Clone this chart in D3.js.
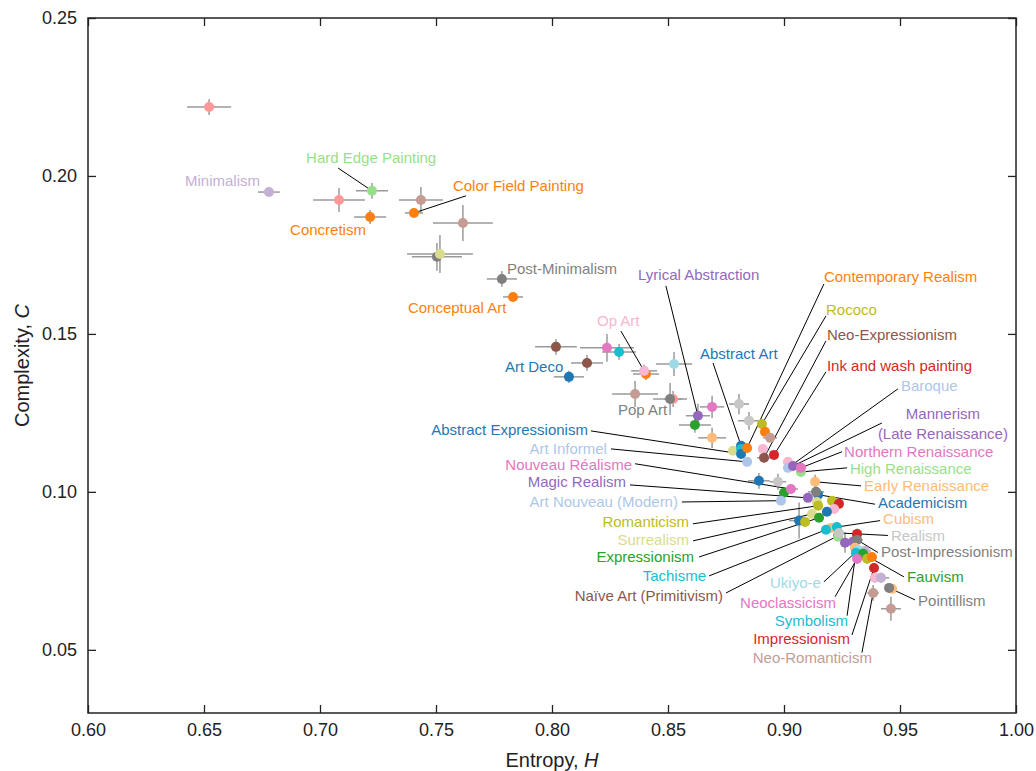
<!DOCTYPE html>
<html>
<head>
<meta charset="utf-8">
<script src="https://cdn.jsdelivr.net/npm/d3@7"></script>
<style>
  html, body { margin: 0; padding: 0; background: #fff; }
  svg { display: block; font-family: "Liberation Sans", Arial, Helvetica, sans-serif; }
</style>
</head>
<body>
<svg id="chart" width="1036" height="771"></svg>
<script>
// ---------------- DATA ----------------
const names = [
  "", "Minimalism", "", "Hard Edge Painting", "Concretism", "", "Color Field Painting", "",
  "", "", "Post-Minimalism", "Conceptual Art", "", "", "", "", "Art Deco", "", "Op Art", "",
  "", "", "Pop Art", "", "Lyrical Abstraction", "", "", "", "", "Rococo", "", "", "",
  "Abstract Art", "", "Abstract Expressionism", "Contemporary Realism", "", "Neo-Expressionism",
  "Ink and wash painting", "Art Informel", "", "Baroque", "Mannerism", "High Renaissance",
  "Northern Renaissance", "Early Renaissance", "", "", "", "Nouveau Réalisme", "Academicism", "",
  "Magic Realism", "Art Nouveau (Modern)", "", "Romanticism", "", "", "", "", "Surrealism",
  "Expressionism", "", "", "Cubism", "Tachisme", "", "Naïve Art (Primitivism)", "", "Realism", "",
  "", "", "Post-Impressionism", "", "", "Ukiyo-e", "Symbolism", "Fauvism", "Neoclassicism", "",
  "", "Impressionism", "", "", "Neo-Romanticism", "", "Pointillism", ""
];
const colors = [
  "#ff9896", "#c5b0d5", "#ff9896", "#98df8a", "#ff7f0e", "#c49c94", "#ff7f0e", "#c49c94",
  "#7f7f7f", "#dbdb8d", "#7f7f7f", "#ff7f0e", "#8c564b", "#e377c2", "#17becf", "#8c564b", "#1f77b4", "#ff7f0e", "#f7b6d2", "#9edae5",
  "#c49c94", "#ff9896", "#7f7f7f", "#e377c2", "#9467bd", "#2ca02c", "#c7c7c7", "#c7c7c7", "#ffbb78", "#bcbd22", "#ff7f0e", "#c49c94", "#dbdb8d",
  "#1f77b4", "#17becf", "#1f77b4", "#ff7f0e", "#f7b6d2", "#8c564b",
  "#d62728", "#aec7e8", "#f7b6d2", "#aec7e8", "#9467bd", "#98df8a",
  "#e377c2", "#ffbb78", "#1f77b4", "#c7c7c7", "#2ca02c", "#e377c2", "#1f77b4", "#7f7f7f",
  "#9467bd", "#aec7e8", "#dbdb8d", "#bcbd22", "#bcbd22", "#d62728", "#f7b6d2", "#1f77b4", "#dbdb8d",
  "#2ca02c", "#1f77b4", "#bcbd22", "#ffbb78", "#17becf", "#17becf", "#8c564b", "#98df8a", "#c7c7c7", "#d62728",
  "#9467bd", "#9467bd", "#7f7f7f", "#ffbb78", "#c5b0d5", "#9edae5", "#17becf", "#2ca02c", "#e377c2", "#bcbd22",
  "#ff7f0e", "#d62728", "#f7b6d2", "#c5b0d5", "#c49c94", "#ffbb78", "#7f7f7f", "#c49c94"
];
// Entropy H
const entropy = [
  0.6522, 0.6780, 0.7082, 0.7224, 0.7216, 0.7435, 0.7405, 0.7616,
  0.7504, 0.7517, 0.7784, 0.7832, 0.8017, 0.8237, 0.8289, 0.8151, 0.8073, 0.8405, 0.8397, 0.8526,
  0.8358, 0.8522, 0.8509, 0.8690, 0.8629, 0.8616, 0.8806, 0.8849, 0.8690, 0.8905, 0.8918, 0.8940, 0.8780,
  0.8815, 0.8815, 0.8815, 0.8841, 0.8909, 0.8914,
  0.8957, 0.8841, 0.9017, 0.9017, 0.9039, 0.9073,
  0.9073, 0.9134, 0.8892, 0.8974, 0.9000, 0.9030, 0.9147, 0.9138,
  0.9103, 0.8987, 0.9142, 0.9147, 0.9207, 0.9237, 0.9216, 0.9185, 0.9121,
  0.9151, 0.9065, 0.9091, 0.9203, 0.9181, 0.9228, 0.9233, 0.9233, 0.9237, 0.9315,
  0.9263, 0.9297, 0.9315, 0.9306, 0.9349, 0.9319, 0.9310, 0.9341, 0.9315, 0.9358,
  0.9379, 0.9388, 0.9392, 0.9418, 0.9384, 0.9466, 0.9453, 0.9461
];
// Complexity C
const complexity = [
  0.2218, 0.1949, 0.1924, 0.1953, 0.1870, 0.1924, 0.1883, 0.1851,
  0.1744, 0.1753, 0.1674, 0.1617, 0.1459, 0.1456, 0.1443, 0.1408, 0.1364, 0.1373, 0.1383, 0.1405,
  0.1310, 0.1294, 0.1294, 0.1269, 0.1241, 0.1212, 0.1278, 0.1225, 0.1171, 0.1215, 0.1190, 0.1171, 0.1130,
  0.1146, 0.1136, 0.1120, 0.1139, 0.1136, 0.1108,
  0.1117, 0.1095, 0.1095, 0.1076, 0.1082, 0.1063,
  0.1076, 0.1032, 0.1035, 0.1032, 0.0997, 0.1009, 0.0991, 0.1000,
  0.0981, 0.0972, 0.0968, 0.0956, 0.0972, 0.0962, 0.0946, 0.0937, 0.0930,
  0.0918, 0.0909, 0.0905, 0.0886, 0.0880, 0.0889, 0.0861, 0.0858, 0.0870, 0.0867,
  0.0839, 0.0842, 0.0848, 0.0823, 0.0813, 0.0816, 0.0807, 0.0804, 0.0788, 0.0788,
  0.0794, 0.0759, 0.0728, 0.0728, 0.0680, 0.0693, 0.0696, 0.0630
];
// standard errors
const entropyErr = [
  0.0095, 0.0047, 0.0112, 0.0069, 0.0069, 0.0095, 0.0039, 0.0129,
  0.0108, 0.0142, 0.0065, 0.0043, 0.0090, 0.0116, 0.0073, 0.0069, 0.0065, 0.0056, 0.0056, 0.0078,
  0.0099, 0.0040, 0.0073, 0.0052, 0.0052, 0.0069, 0.0043, 0.0047, 0.0060, 0.0013, 0.0015, 0.0030, 0.0020,
  0.0020, 0.0020, 0.0020, 0.0015, 0.0020, 0.0030,
  0.0015, 0.0020, 0.0020, 0.0020, 0.0020, 0.0020,
  0.0020, 0.0015, 0.0047, 0.0035, 0.0020, 0.0030, 0.0020, 0.0035,
  0.0020, 0.0020, 0.0020, 0.0020, 0.0020, 0.0015, 0.0020, 0.0020, 0.0020,
  0.0020, 0.0043, 0.0020, 0.0020, 0.0020, 0.0020, 0.0020, 0.0020, 0.0020, 0.0020,
  0.0020, 0.0020, 0.0025, 0.0020, 0.0025, 0.0020, 0.0020, 0.0020, 0.0020, 0.0020,
  0.0020, 0.0015, 0.0020, 0.0035, 0.0025, 0.0015, 0.0020, 0.0043
];
const complexityErr = [
  0.0025, 0.0006, 0.0038, 0.0025, 0.0022, 0.0041, 0.0010, 0.0057,
  0.0044, 0.0060, 0.0025, 0.0013, 0.0025, 0.0044, 0.0025, 0.0025, 0.0019, 0.0019, 0.0019, 0.0038,
  0.0041, 0.0025, 0.0051, 0.0035, 0.0038, 0.0025, 0.0032, 0.0028, 0.0032, 0.0010, 0.0010, 0.0013, 0.0013,
  0.0013, 0.0013, 0.0013, 0.0010, 0.0013, 0.0016,
  0.0010, 0.0013, 0.0013, 0.0013, 0.0013, 0.0013,
  0.0013, 0.0022, 0.0025, 0.0025, 0.0013, 0.0016, 0.0013, 0.0025,
  0.0013, 0.0013, 0.0013, 0.0013, 0.0013, 0.0013, 0.0013, 0.0013, 0.0013,
  0.0013, 0.0057, 0.0016, 0.0013, 0.0013, 0.0013, 0.0013, 0.0013, 0.0013, 0.0016,
  0.0032, 0.0025, 0.0035, 0.0016, 0.0016, 0.0016, 0.0013, 0.0020, 0.0016, 0.0016,
  0.0013, 0.0016, 0.0016, 0.0016, 0.0025, 0.0013, 0.0013, 0.0038
];
const xTicks = [0.60, 0.65, 0.70, 0.75, 0.80, 0.85, 0.90, 0.95, 1.00];
const yTicks = [0.05, 0.10, 0.15, 0.20, 0.25];

// --------------- LABEL LAYOUT (data units) ---------------
// [name, anchor, textX, textY, leaderX, leaderY]
const labelLayout = [
  ["Minimalism", "start", 0.6418, 0.1984, null, null],
  ["Hard Edge Painting", "start", 0.6940, 0.2057, 0.7078, 0.2025],
  ["Color Field Painting", "start", 0.7573, 0.1968, 0.7629, 0.1937],
  ["Concretism", "start", 0.6871, 0.1829, null, null],
  ["Post-Minimalism", "start", 0.7806, 0.1706, null, null],
  ["Conceptual Art", "start", 0.7379, 0.1582, null, null],
  ["Lyrical Abstraction", "start", 0.8371, 0.1687, 0.8491, 0.1652],
  ["Op Art", "start", 0.8194, 0.1541, 0.8297, 0.1509],
  ["Art Deco", "start", 0.7797, 0.1396, null, null],
  ["Abstract Art", "start", 0.8638, 0.1437, 0.8694, 0.1408],
  ["Pop Art", "start", 0.8284, 0.1259, null, null],
  ["Contemporary Realism", "start", 0.9172, 0.1680, 0.9172, 0.1658],
  ["Rococo", "start", 0.9181, 0.1576, 0.9181, 0.1557],
  ["Neo-Expressionism", "start", 0.9185, 0.1497, 0.9181, 0.1478],
  ["Ink and wash painting", "start", 0.9185, 0.1399, 0.9181, 0.1380],
  ["Baroque", "start", 0.9504, 0.1335, 0.9491, 0.1326],
  ["Mannerism", "middle", 0.9685, 0.1247, 0.9422, 0.1218],
  ["Northern Renaissance", "start", 0.9259, 0.1127, 0.9250, 0.1127],
  ["High Renaissance", "start", 0.9284, 0.1073, 0.9272, 0.1076],
  ["Early Renaissance", "start", 0.9345, 0.1019, 0.9332, 0.1019],
  ["Academicism", "start", 0.9405, 0.0967, 0.9392, 0.0961],
  ["Cubism", "start", 0.9427, 0.0915, 0.9414, 0.0909],
  ["Realism", "start", 0.9461, 0.0862, 0.9448, 0.0862],
  ["Post-Impressionism", "start", 0.9418, 0.0810, 0.9405, 0.0808],
  ["Fauvism", "start", 0.9530, 0.0731, 0.9517, 0.0731],
  ["Pointillism", "start", 0.9578, 0.0655, 0.9565, 0.0658],
  ["Ukiyo-e", "end", 0.9159, 0.0712, 0.9172, 0.0715],
  ["Neoclassicism", "end", 0.9224, 0.0649, 0.9220, 0.0668],
  ["Symbolism", "end", 0.9276, 0.0592, 0.9272, 0.0608],
  ["Impressionism", "end", 0.9284, 0.0535, 0.9293, 0.0547],
  ["Neo-Romanticism", "end", 0.9379, 0.0475, 0.9336, 0.0491],
  ["Abstract Expressionism", "end", 0.8155, 0.1196, 0.8168, 0.1193],
  ["Art Informel", "end", 0.8237, 0.1136, 0.8254, 0.1136],
  ["Nouveau Réalisme", "end", 0.8345, 0.1085, 0.8358, 0.1089],
  ["Magic Realism", "end", 0.8319, 0.1032, 0.8336, 0.1022],
  ["Art Nouveau (Modern)", "end", 0.8543, 0.0968, 0.8560, 0.0968],
  ["Romanticism", "end", 0.8591, 0.0905, 0.8608, 0.0899],
  ["Surrealism", "end", 0.8591, 0.0848, 0.8608, 0.0845],
  ["Expressionism", "end", 0.8612, 0.0794, 0.8634, 0.0794],
  ["Tachisme", "end", 0.8664, 0.0734, 0.8677, 0.0734],
  ["Naïve Art (Primitivism)", "end", 0.8737, 0.0671, 0.8750, 0.0680]
];

// --------------- CHART ---------------
const W = 1036, H = 771;
const margin = { left: 88, right: 20, top: 18, bottom: 58 };
const x = d3.scaleLinear().domain([0.60, 1.00]).range([margin.left, W - margin.right]);
const y = d3.scaleLinear().domain([0.03, 0.25]).range([H - margin.bottom, margin.top]);

const svg = d3.select("#chart");
const points = names.map((n, i) => ({
  name: n, color: colors[i], x: entropy[i], y: complexity[i], ex: entropyErr[i], ey: complexityErr[i]
}));

// error bars
const bars = svg.append("g").attr("stroke", "#9a9a9a").attr("stroke-width", 1.5);
points.forEach(p => {
  bars.append("line").attr("x1", x(p.x - p.ex)).attr("x2", x(p.x + p.ex))
    .attr("y1", y(p.y)).attr("y2", y(p.y));
  bars.append("line").attr("x1", x(p.x)).attr("x2", x(p.x))
    .attr("y1", y(p.y - p.ey)).attr("y2", y(p.y + p.ey));
});

// leader lines
const byName = {};
points.forEach(p => { if (p.name) byName[p.name] = p; });
const leaders = svg.append("g").attr("stroke", "#000").attr("stroke-width", 1);
labelLayout.forEach(([n, anchor, tx, ty, lx, ly]) => {
  if (lx === null) return;
  const p = byName[n];
  leaders.append("line").attr("x1", x(lx)).attr("y1", y(ly)).attr("x2", x(p.x)).attr("y2", y(p.y));
});

// dots
svg.append("g").selectAll("circle").data(points).join("circle")
  .attr("cx", d => x(d.x)).attr("cy", d => y(d.y)).attr("r", 5)
  .attr("fill", d => d.color);

// labels
const lab = svg.append("g").attr("font-size", 15);
labelLayout.forEach(([n, anchor, tx, ty]) => {
  const p = byName[n];
  if (n === "Mannerism") {
    const t = lab.append("text").attr("text-anchor", "middle").attr("fill", p.color);
    t.append("tspan").attr("x", x(tx)).attr("y", y(ty)).attr("dy", "0.35em").text("Mannerism");
    t.append("tspan").attr("x", x(tx)).attr("dy", "1.3em").text("(Late Renaissance)");
  } else {
    lab.append("text").attr("x", x(tx)).attr("y", y(ty)).attr("dy", "0.35em")
      .attr("text-anchor", anchor).attr("fill", p.color).text(n);
  }
});

// axes with inward ticks
const fmt = d3.format(".2f");
const tickLen = 8;
const gx = svg.append("g").attr("transform", `translate(0,${y(0.03)})`)
  .call(d3.axisBottom(x).tickValues(xTicks).tickFormat(fmt).tickSizeInner(-tickLen).tickSizeOuter(0).tickPadding(10));
const gy = svg.append("g").attr("transform", `translate(${x(0.60)},0)`)
  .call(d3.axisLeft(y).tickValues(yTicks).tickFormat(fmt).tickSizeInner(-tickLen).tickSizeOuter(0).tickPadding(11));
const gt = svg.append("g").attr("transform", `translate(0,${y(0.25)})`)
  .call(d3.axisTop(x).tickValues(xTicks).tickFormat("").tickSizeInner(-tickLen).tickSizeOuter(0));
const gr = svg.append("g").attr("transform", `translate(${x(1.00)},0)`)
  .call(d3.axisRight(y).tickValues(yTicks).tickFormat("").tickSizeInner(-tickLen).tickSizeOuter(0));
[gx, gy, gt, gr].forEach(g => {
  g.select(".domain").remove();
  g.selectAll(".tick line").attr("stroke", "#222").attr("stroke-width", 1.3);
  g.selectAll(".tick text").attr("font-size", 18).attr("fill", "#222")
    .attr("font-family", "'Liberation Sans', Arial, Helvetica, sans-serif");
});

// frame
svg.append("rect").attr("x", x(0.60)).attr("y", y(0.25))
  .attr("width", x(1.00) - x(0.60)).attr("height", y(0.03) - y(0.25))
  .attr("fill", "none").attr("stroke", "#222").attr("stroke-width", 1.5);

// axis titles
const xt = svg.append("text").attr("x", (x(0.60) + x(1.00)) / 2).attr("y", 767)
  .attr("text-anchor", "middle").attr("font-size", 20).attr("fill", "#222");
xt.append("tspan").text("Entropy, ");
xt.append("tspan").attr("font-style", "italic").text("H");
const yt = svg.append("text").attr("transform", `translate(29,${(y(0.03) + y(0.25)) / 2}) rotate(-90)`)
  .attr("text-anchor", "middle").attr("font-size", 20).attr("fill", "#222");
yt.append("tspan").text("Complexity, ");
yt.append("tspan").attr("font-style", "italic").text("C");
</script>
</body>
</html>
